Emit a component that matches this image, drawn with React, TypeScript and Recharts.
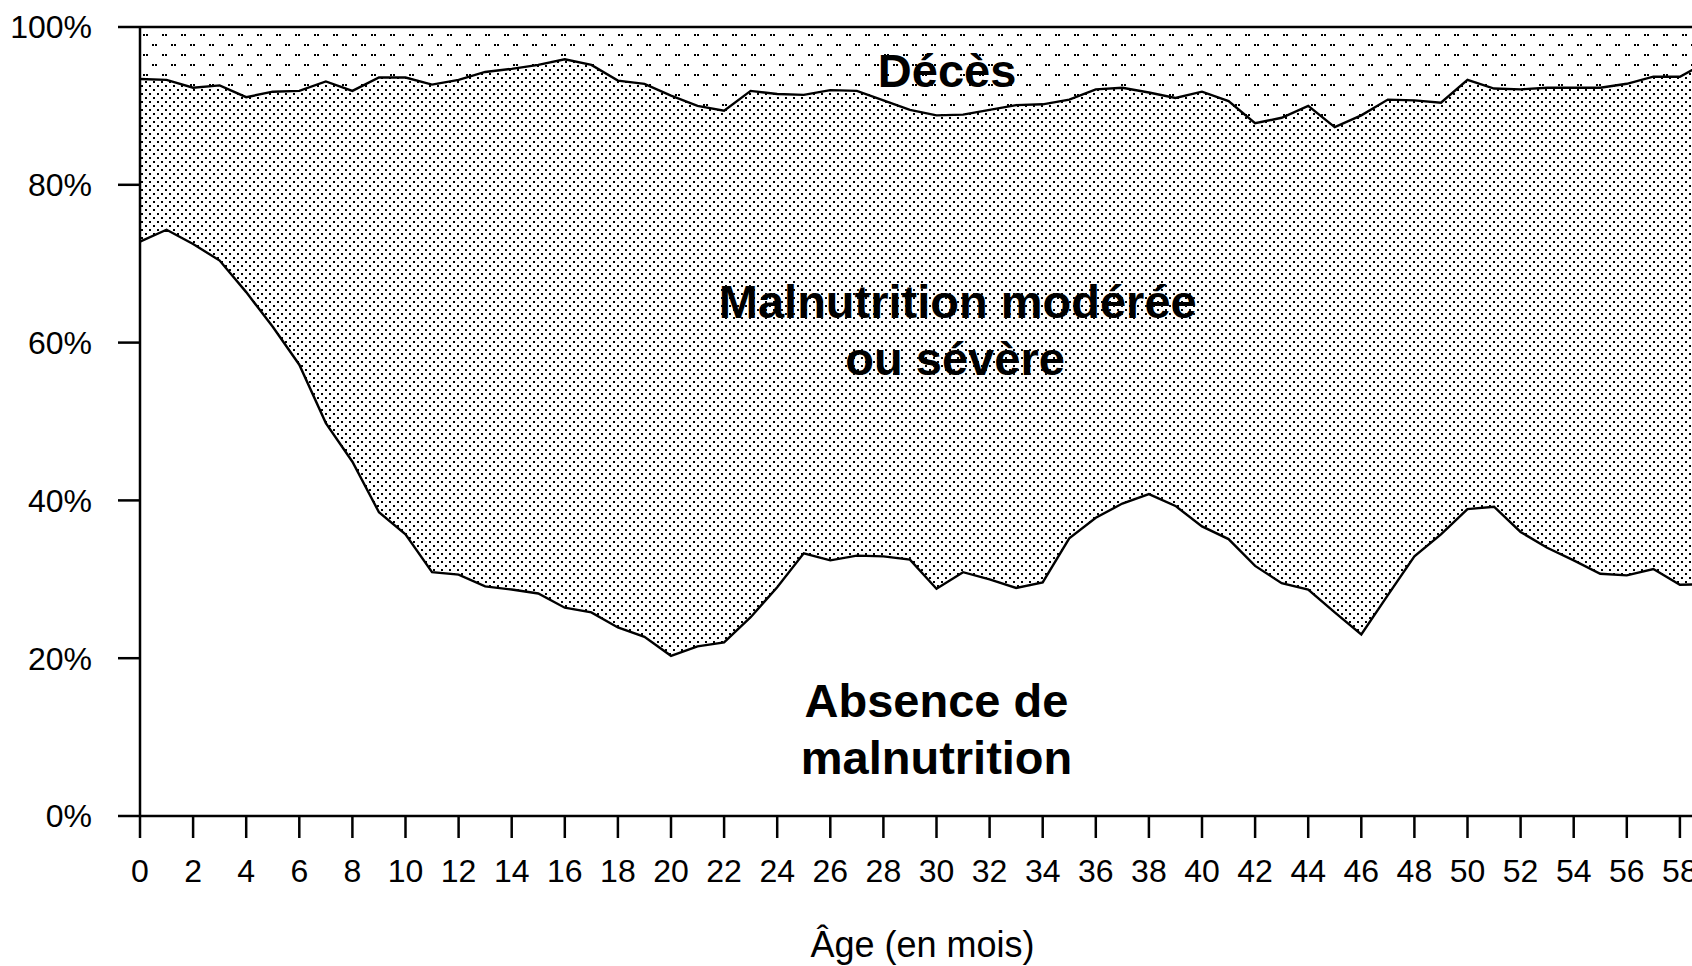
import {
  ComposedChart,
  Area,
  XAxis,
  YAxis,
  ReferenceLine,
  ReferenceDot,
  Label,
} from "recharts";

// age in months
const ages = [
  0, 1, 2, 3, 4, 5, 6, 7, 8, 9, 10, 11, 12, 13, 14, 15, 16, 17, 18, 19, 20,
  21, 22, 23, 24, 25, 26, 27, 28, 29, 30, 31, 32, 33, 34, 35, 36, 37, 38, 39,
  40, 41, 42, 43, 44, 45, 46, 47, 48, 49, 50, 51, 52, 53, 54, 55, 56, 57, 58,
  59,
];

// share of children (%) per state
const absence = [
  72.8, 74.3, 72.5, 70.4, 66.4, 62.0, 57.2, 49.8, 44.9, 38.5, 35.7, 30.9, 30.6,
  29.1, 28.7, 28.2, 26.4, 25.8, 23.9, 22.7, 20.3, 21.5, 22.0, 25.2, 29.0, 33.3,
  32.4, 33.0, 32.9, 32.5, 28.8, 30.9, 30.0, 28.9, 29.6, 35.2, 37.8, 39.6, 40.8,
  39.3, 36.7, 35.1, 31.7, 29.5, 28.7, 25.8, 23.0, 28.0, 32.9, 35.7, 38.9, 39.2,
  36.0, 34.0, 32.4, 30.7, 30.5, 31.3, 29.3, 29.4,
];

const malnutrition = [
  20.6, 19.0, 19.8, 22.2, 24.7, 29.8, 34.7, 43.3, 47.0, 55.1, 57.9, 61.8, 62.7,
  65.2, 66.0, 67.0, 69.5, 69.4, 69.3, 70.1, 71.0, 68.5, 67.4, 66.7, 62.5, 58.1,
  59.6, 58.9, 57.8, 57.0, 60.0, 58.0, 59.5, 61.2, 60.6, 55.6, 54.3, 52.7, 50.9,
  51.7, 55.1, 55.5, 56.1, 59.0, 61.3, 61.5, 65.8, 62.8, 57.8, 54.7, 54.4, 53.0,
  56.1, 58.3, 59.9, 61.6, 62.3, 62.4, 64.4, 66.1,
];

const deces = [
  6.6, 6.7, 7.7, 7.4, 8.9, 8.2, 8.1, 6.9, 8.1, 6.4, 6.4, 7.3, 6.7, 5.7, 5.3,
  4.8, 4.1, 4.8, 6.8, 7.2, 8.7, 10.0, 10.6, 8.1, 8.5, 8.6, 8.0, 8.1, 9.3, 10.5,
  11.2, 11.1, 10.5, 9.9, 9.8, 9.2, 7.9, 7.7, 8.3, 9.0, 8.2, 9.4, 12.2, 11.5,
  10.0, 12.7, 11.2, 9.2, 9.3, 9.6, 6.7, 7.8, 7.9, 7.7, 7.7, 7.7, 7.2, 6.3, 6.3,
  4.5,
];

const xTicks = [
  0, 2, 4, 6, 8, 10, 12, 14, 16, 18, 20, 22, 24, 26, 28, 30, 32, 34, 36, 38,
  40, 42, 44, 46, 48, 50, 52, 54, 56, 58,
];
const yTicks = [0, 20, 40, 60, 80, 100];

const data = ages.map((age, i) => ({
  age,
  absence: absence[i],
  malnutrition: malnutrition[i],
  deces: deces[i],
}));

const font = "'Liberation Sans', Arial, Helvetica, sans-serif";
const tickStyle = { fontSize: 32, fill: "#000", fontFamily: font };
const bigLabel = {
  fill: "#000",
  fontSize: 47,
  fontWeight: 700,
  fontFamily: font,
};

export default function App() {
  return (
    <div
      style={{
        position: "absolute",
        left: 0,
        top: 0,
        width: 1692,
        height: 966,
        overflow: "hidden",
        background: "#fff",
      }}
    >
      <ComposedChart
        width={1760}
        height={966}
        data={data}
        margin={{ top: 27, right: 27, bottom: 0, left: 0 }}
      >
        <defs>
          <pattern
            id="dense"
            patternUnits="userSpaceOnUse"
            width={8}
            height={8}
          >
            <rect x={1} y={1} width={2} height={2} fill="#000" />
            <rect x={5} y={5} width={2} height={2} fill="#000" />
          </pattern>
          <pattern
            id="sparse"
            patternUnits="userSpaceOnUse"
            width={19}
            height={20}
          >
            <rect x={0} y={4} width={2} height={2} fill="#000" />
            <rect x={3} y={4} width={2} height={2} fill="#000" />
            <rect x={10} y={14} width={2} height={2} fill="#000" />
            <rect x={13} y={14} width={2} height={2} fill="#000" />
          </pattern>
        </defs>

        <XAxis
          type="number"
          dataKey="age"
          domain={[0, 60]}
          ticks={xTicks}
          interval={0}
          height={150}
          tickSize={22}
          tickMargin={21}
          tick={tickStyle}
          axisLine={{ stroke: "#000", strokeWidth: 2.5 }}
          tickLine={{ stroke: "#000", strokeWidth: 2.5 }}
        >
          <Label
            value="Âge (en mois)"
            position="insideBottom"
            offset={9}
            dx={-14}
            style={{ fontSize: 36, fill: "#000", fontFamily: font }}
          />
        </XAxis>
        <YAxis
          domain={[0, 100]}
          ticks={yTicks}
          interval={0}
          width={140}
          tickSize={22}
          tickMargin={26}
          tick={tickStyle}
          tickFormatter={(v) => `${v}%`}
          axisLine={{ stroke: "#000", strokeWidth: 2.5 }}
          tickLine={{ stroke: "#000", strokeWidth: 2.5 }}
        />

        <Area
          type="linear"
          dataKey="absence"
          stackId="a"
          fill="#fff"
          fillOpacity={1}
          stroke="#000"
          strokeWidth={2.4}
          dot={false}
          activeDot={false}
          isAnimationActive={false}
        />
        <Area
          type="linear"
          dataKey="malnutrition"
          stackId="a"
          fill="url(#dense)"
          fillOpacity={1}
          stroke="#000"
          strokeWidth={2.4}
          dot={false}
          activeDot={false}
          isAnimationActive={false}
        />
        <Area
          type="linear"
          dataKey="deces"
          stackId="a"
          fill="url(#sparse)"
          fillOpacity={1}
          stroke="none"
          dot={false}
          activeDot={false}
          isAnimationActive={false}
        />

        <ReferenceLine y={100} stroke="#000" strokeWidth={2.5} />

        <ReferenceDot
          x={30.4}
          y={94.5}
          r={0}
          fill="none"
          stroke="none"
          label={{ value: "Décès", position: "center", ...bigLabel }}
        />
        <ReferenceDot
          x={30.8}
          y={65.2}
          r={0}
          fill="none"
          stroke="none"
          label={{
            value: "Malnutrition modérée",
            position: "center",
            ...bigLabel,
          }}
        />
        <ReferenceDot
          x={30.7}
          y={58.0}
          r={0}
          fill="none"
          stroke="none"
          label={{ value: "ou sévère", position: "center", ...bigLabel }}
        />
        <ReferenceDot
          x={30.0}
          y={14.6}
          r={0}
          fill="none"
          stroke="none"
          label={{ value: "Absence de", position: "center", ...bigLabel }}
        />
        <ReferenceDot
          x={30.0}
          y={7.5}
          r={0}
          fill="none"
          stroke="none"
          label={{ value: "malnutrition", position: "center", ...bigLabel }}
        />
      </ComposedChart>
    </div>
  );
}
